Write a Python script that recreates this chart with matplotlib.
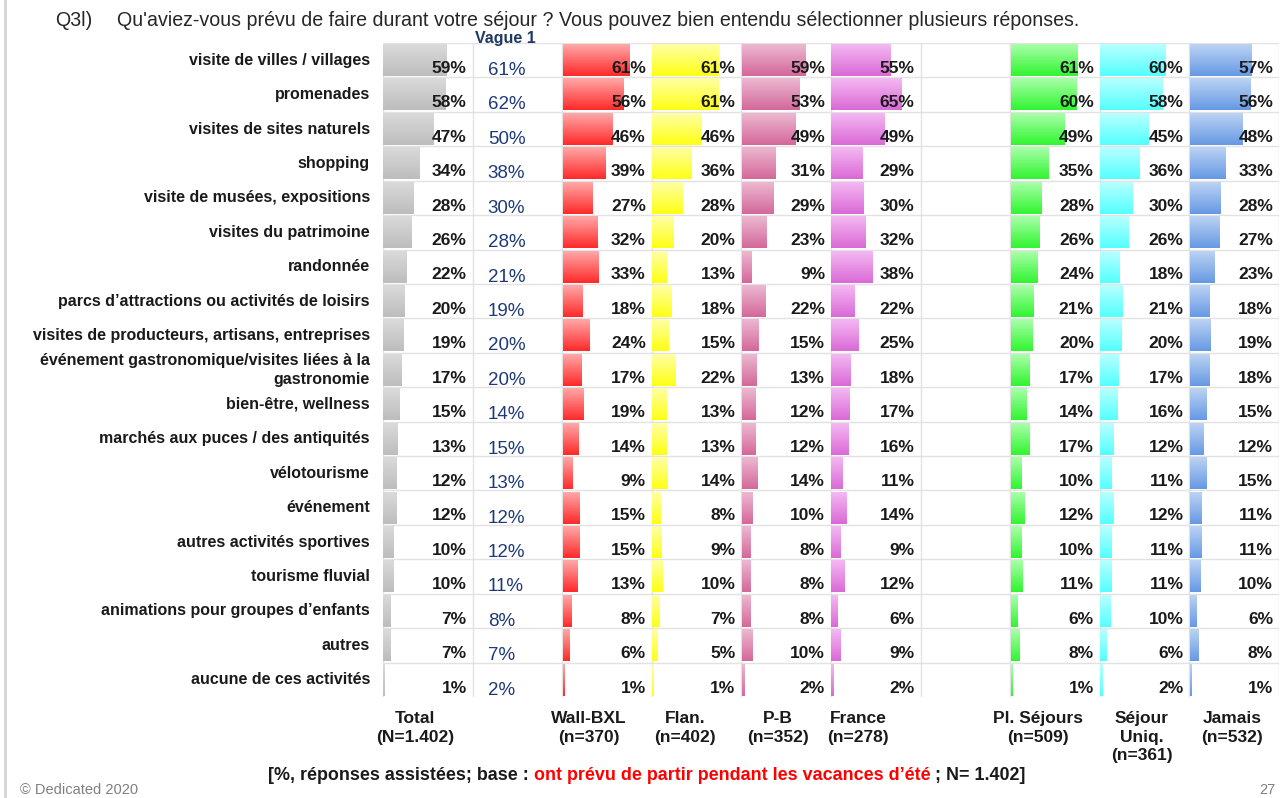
import numpy as np
import matplotlib.pyplot as plt
from matplotlib.colors import to_rgb
from matplotlib.lines import Line2D
from matplotlib.transforms import blended_transform_factory

plt.rcParams['font.family'] = ['Liberation Sans', 'DejaVu Sans']

# ---------------- data ----------------
activities = [
    "visite de villes / villages",
    "promenades",
    "visites de sites naturels",
    "shopping",
    "visite de musées, expositions",
    "visites du patrimoine",
    "randonnée",
    "parcs d’attractions ou activités de loisirs",
    "visites de producteurs, artisans, entreprises",
    "événement gastronomique/visites liées à la\ngastronomie",
    "bien-être, wellness",
    "marchés aux puces / des antiquités",
    "vélotourisme",
    "événement",
    "autres activités sportives",
    "tourisme fluvial",
    "animations pour groupes d’enfants",
    "autres",
    "aucune de ces activités",
]

total    = [59, 58, 47, 34, 28, 26, 22, 20, 19, 17, 15, 13, 12, 12, 10, 10, 7, 7, 1]
vague1   = [61, 62, 50, 38, 30, 28, 21, 19, 20, 20, 14, 15, 13, 12, 12, 11, 8, 7, 2]
wall_bxl = [61, 56, 46, 39, 27, 32, 33, 18, 24, 17, 19, 14, 9, 15, 15, 13, 8, 6, 1]
flandre  = [61, 61, 46, 36, 28, 20, 13, 18, 15, 22, 13, 13, 14, 8, 9, 10, 7, 5, 1]
pays_bas = [59, 53, 49, 31, 29, 23, 9, 22, 15, 13, 12, 12, 14, 10, 8, 8, 8, 10, 2]
france   = [55, 65, 49, 29, 30, 32, 38, 22, 25, 18, 17, 16, 11, 14, 9, 12, 6, 9, 2]
pl_sej   = [61, 60, 49, 35, 28, 26, 24, 21, 20, 17, 14, 17, 10, 12, 10, 11, 6, 8, 1]
sej_uniq = [60, 58, 45, 36, 30, 26, 18, 21, 20, 17, 16, 12, 11, 12, 11, 11, 10, 6, 2]
jamais   = [57, 56, 48, 33, 28, 27, 23, 18, 19, 18, 15, 12, 15, 11, 11, 10, 6, 8, 1]

headers = ["Total\n(N=1.402)", "Wall-BXL\n(n=370)", "Flan.\n(n=402)", "P-B\n(n=352)",
           "France\n(n=278)", "Pl. Séjours\n(n=509)", "Séjour\nUniq.\n(n=361)", "Jamais\n(n=532)"]

# column index in the table, values, gradient (top, bottom)
bar_cols = [
    (0, total,    "#dadada", "#bdbdbd"),
    (2, wall_bxl, "#ffa8a8", "#ff2a2a"),
    (3, flandre,  "#ffffa6", "#ffff14"),
    (4, pays_bas, "#ecb8d0", "#d4689a"),
    (5, france,   "#f4b8f2", "#da6ad6"),
    (7, pl_sej,   "#aaffaa", "#30f530"),
    (8, sej_uniq, "#b8ffff", "#55ffff"),
    (9, jamais,   "#bcd3f3", "#6699e4"),
]
header_x = [415, 589, 685, 778, 858, 1038, 1142, 1232]   # pixel centres

W = 82.6          # width of one column in percent units
ncols = 10
nrows = len(activities)

fig = plt.figure(figsize=(12.85, 7.98), dpi=100)
ax = fig.add_axes([383 / 1285, 1 - 697 / 798, 896 / 1285, 654 / 798])


def grad_bar(x0, y0, w, h, top, bottom):
    t = np.array(to_rgb(top))
    b = np.array(to_rgb(bottom))
    g = np.linspace(0, 1, 40)[:, None, None]
    img = t * (1 - g) + b * g
    ax.imshow(img, extent=(x0, x0 + w, y0 + h, y0), origin="upper",
              aspect="auto", interpolation="bilinear", zorder=2)


# grid
ax.hlines(range(nrows), 0, ncols * W, color="#e2e2e2", lw=1, zorder=1)
ax.vlines([c * W for c in range(ncols + 1)], 0, nrows, color="#e2e2e2", lw=1, zorder=1)

# bars + values
for col, vals, ctop, cbot in bar_cols:
    for i, v in enumerate(vals):
        grad_bar(col * W + 0.3, i + 0.04, v, 0.92, ctop, cbot)
        ax.text((col + 1) * W - 5.5, i + 0.74, f"{v}%", ha="right", va="center",
                fontsize=12.5, fontweight="bold", color="#1a1a1a", zorder=3)

# vague 1 column (text only)
for i, v in enumerate(vague1):
    ax.text(W + 14, i + 0.80, f"{v}%", ha="left", va="center",
            fontsize=13.5, color="#1f3a78", zorder=3)

ax.set_xlim(0, ncols * W)
ax.set_ylim(nrows, 0)
ax.axis("off")

# row labels
tr = blended_transform_factory(fig.transFigure, ax.transData)
for i, lab in enumerate(activities):
    ax.text(370 / 1285, i + 0.5, lab, transform=tr, ha="right", va="center",
            fontsize=11.5, fontweight="bold", color="#1a1a1a", linespacing=1.35)

# title and column header
fig.text(55 / 1285, 1 - 20 / 798, "Q3l)", fontsize=14.1, color="#262626", va="center")
fig.text(117 / 1285, 1 - 20 / 798,
         "Qu'aviez-vous prévu de faire durant votre séjour ? Vous pouvez bien entendu sélectionner plusieurs réponses.",
         fontsize=14.1, color="#262626", va="center")
fig.text(505 / 1285, 1 - 38 / 798, "Vague 1", fontsize=11.5, fontweight="bold",
         color="#1f3864", ha="center", va="center")

# bottom headers
for x, h in zip(header_x, headers):
    fig.text(x / 1285, 1 - 711 / 798, h, ha="center", va="top", fontsize=12.5,
             fontweight="bold", color="#1a1a1a", linespacing=1.3)

# footer with red part
t1 = fig.text(268 / 1285, 1 - 776 / 798, "[%, réponses assistées; base : ",
              fontsize=12.9, fontweight="bold", color="#1a1a1a", va="center")
t2 = fig.text(0, 0, "ont prévu de partir pendant les vacances d’été",
              fontsize=12.9, fontweight="bold", color="#ff0000", va="center")
t3 = fig.text(0, 0, " ; N= 1.402]", fontsize=12.9, fontweight="bold",
              color="#1a1a1a", va="center")
fig.canvas.draw()
r = fig.canvas.get_renderer()
bb1 = t1.get_window_extent(r)
t2.set_position((bb1.x1 / 1285, 1 - 776 / 798))
bb2 = t2.get_window_extent(r)
t3.set_position((bb2.x1 / 1285, 1 - 776 / 798))

fig.text(20 / 1285, 1 - 790 / 798, "© Dedicated 2020", fontsize=10.5,
         color="#808080", va="center")
fig.text(1275 / 1285, 1 - 790 / 798, "27", fontsize=10.5, color="#808080",
         va="center", ha="right")

# thin slide border at the left
fig.add_artist(Line2D([5 / 1285, 5 / 1285], [0, 1], color="#d4d4d4", lw=2,
                      transform=fig.transFigure))

fig.savefig("out.png", dpi=100)
